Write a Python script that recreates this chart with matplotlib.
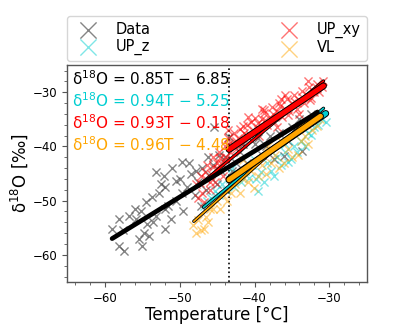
import numpy as np
import matplotlib
matplotlib.use('Agg')
import matplotlib.pyplot as plt
import matplotlib.ticker as mticker
import matplotlib.patheffects as pe

# ── datos ────────────────────────────────────────────────────────────────────
data_T = [-58.1, -59.0, -58.1, -57.4, -54.5, -55.2, -55.4, -55.0, -54.1, -54.4,
          -53.2, -52.1, -52.8, -51.9, -51.5, -51.1, -51.9, -50.5, -49.7, -49.7,
          -53.2, -55.8, -56.8, -53.7, -49.0, -48.5, -48.0, -47.5, -47.0, -46.5,
          -46.0, -45.5, -45.0, -44.5, -45.4, -43.4, -44.0, -43.0, -42.0, -41.0,
          -40.0, -39.0, -38.0, -37.4, -36.1, -33.6, -35.0, -34.0, -32.5, -50.5,
          -49.5, -48.8, -47.2, -52.5, -51.0, -56.0, -57.5, -53.5, -52.0, -54.8,
          -50.0, -47.8, -46.2, -44.8, -42.5, -41.5, -39.5, -38.5, -36.8, -35.5]
data_d = [-53.4, -55.3, -58.4, -59.3, -50.3, -52.0, -57.1, -58.4, -56.6, -54.4,
          -44.8, -45.5, -48.5, -47.4, -51.0, -53.4, -55.3, -46.4, -42.8, -48.5,
          -52.9, -53.4, -52.9, -49.4, -47.5, -45.0, -49.0, -46.5, -44.0, -48.0,
          -45.5, -43.5, -47.0, -44.5, -36.5, -38.3, -42.0, -44.5, -41.0, -43.0,
          -39.5, -41.5, -38.0, -42.4, -41.8, -40.9, -36.5, -35.0, -34.0, -50.0,
          -52.0, -43.0, -51.0, -47.0, -44.0, -51.5, -55.5, -54.0, -51.5, -56.0,
          -46.0, -44.5, -42.0, -41.5, -43.0, -39.5, -38.5, -40.0, -37.5, -39.0]

upz_T = [-46.8, -46.3, -45.8, -45.3, -44.8, -44.3, -43.8, -43.3, -42.8, -42.3,
         -41.8, -41.3, -40.8, -40.3, -39.8, -39.5, -39.1, -38.7, -38.3, -37.8,
         -37.4, -37.0, -36.5, -36.0, -35.5, -35.2, -34.8, -34.3, -33.8, -33.3,
         -32.8, -32.5, -32.0, -31.5, -31.0, -30.5, -43.0, -40.0, -36.0]
upz_d = [-51.0, -50.0, -49.5, -48.2, -49.0, -47.0, -48.0, -46.0, -47.5, -45.0,
         -46.5, -44.5, -45.8, -43.5, -46.0, -48.3, -44.8, -46.6, -43.0, -44.5,
         -45.5, -42.0, -43.5, -41.0, -42.8, -42.4, -40.0, -41.0, -39.0, -40.0,
         -37.5, -37.8, -36.5, -36.0, -35.0, -35.4, -44.0, -42.5, -39.5]

upxy_T = [-47.8, -47.5, -47.2, -47.0, -46.8, -46.5, -46.3, -46.0, -45.8, -45.5,
          -45.3, -45.0, -44.8, -44.5, -44.2, -44.0, -43.8, -43.5, -43.3, -43.0,
          -42.8, -42.5, -42.2, -42.0, -41.7, -41.4, -41.0, -40.8, -40.5, -40.2,
          -40.0, -39.7, -39.4, -39.0, -38.7, -38.4, -38.0, -37.7, -37.4, -37.0,
          -36.7, -36.4, -36.0, -35.7, -35.4, -35.0, -34.7, -34.4, -34.0, -33.7,
          -33.4, -33.0, -32.7, -32.4, -32.0, -31.7, -31.4, -31.0, -30.8, -39.0,
          -36.0, -34.0, -37.0, -40.9, -43.5, -38.7, -36.5, -32.9, -46.0, -45.0,
          -44.0, -42.5, -41.0, -47.3, -46.6, -45.6, -44.6, -43.6, -42.6, -41.6,
          -40.6, -39.6, -38.6, -37.6, -36.6, -35.6, -34.6, -33.6, -32.6, -31.6]
upxy_d = [-47.0, -49.5, -45.5, -48.5, -50.2, -46.0, -43.5, -48.0, -45.0, -42.0,
          -46.5, -44.0, -41.0, -43.0, -45.5, -40.0, -42.0, -38.5, -41.0, -39.5,
          -37.5, -40.5, -38.5, -36.8, -39.5, -37.5, -36.0, -38.5, -35.5, -37.0,
          -34.8, -36.5, -38.0, -35.0, -33.8, -36.0, -34.5, -32.8, -35.5, -33.5,
          -32.0, -34.5, -33.0, -31.2, -33.5, -32.0, -30.5, -33.0, -31.5, -29.8,
          -32.0, -30.5, -29.0, -31.0, -30.0, -28.5, -30.0, -29.0, -28.0, -33.0,
          -30.5, -34.0, -36.5, -34.5, -36.9, -33.2, -31.3, -28.0, -46.5, -43.0,
          -42.5, -39.0, -38.0, -46.8, -44.8, -43.8, -42.2, -39.8, -39.2, -36.2,
          -37.8, -35.6, -35.2, -34.0, -32.6, -34.2, -31.8, -30.8, -31.4, -29.2]

vl_T = [-48.2, -47.8, -47.5, -47.2, -46.8, -46.5, -46.2, -46.0, -45.5, -45.0,
        -44.6, -44.2, -43.7, -43.1, -42.6, -42.0, -41.5, -40.9, -40.5, -40.1,
        -39.5, -39.0, -38.5, -37.8, -37.3, -36.8, -36.1, -35.6, -35.0, -34.2,
        -33.8, -33.2, -32.8, -32.3, -31.6, -31.2, -38.2, -36.5, -41.5]
vl_d = [-54.5, -56.0, -53.5, -55.5, -55.3, -53.0, -54.0, -51.5, -51.6, -50.0,
        -51.5, -49.0, -50.0, -48.5, -47.0, -48.5, -46.0, -46.6, -44.5, -47.6,
        -45.5, -43.5, -45.0, -43.0, -41.5, -44.0, -43.0, -40.5, -42.0, -41.5,
        -39.0, -38.0, -39.5, -36.9, -36.3, -35.0, -40.0, -39.0, -42.5]

series_names = ['Data', 'UP_z', 'UP_xy', 'VL']
series_colors = ['#444444', 'darkturquoise', 'red', 'orange']

# ajustes: pendiente, ordenada y rango de T (T_c = umbral)
T_c = -43.4
fit_slope = [0.85, 0.94, 0.93, 0.96]
fit_icpt = [-6.85, -5.25, -0.18, -4.48]
fit_T0 = [-59.0, T_c, T_c, T_c]
fit_T1 = [-31.6, -30.5, -30.8, -31.2]

# ajustes finos (rango completo de cada serie)
thin_slope = [1.14, 1.16, 1.23]
thin_icpt = [2.15, 7.8, 5.36]
thin_T0 = [-46.8, -47.6, -48.1]
thin_T1 = [-30.8, -30.8, -31.6]

# ── figura ───────────────────────────────────────────────────────────────────
fig = plt.figure(figsize=(3.95, 3.29), dpi=100)
ax = fig.add_axes([0.170, 0.143, 0.759, 0.659])

pts = [(data_T, data_d), (upz_T, upz_d), (upxy_T, upxy_d), (vl_T, vl_d)]
alphas = [0.65, 0.5, 0.55, 0.5]
for (T, d), name, col, a in zip(pts, series_names, series_colors, alphas):
    ax.scatter(T, d, marker='x', s=34, linewidths=1.0, color=col,
               alpha=a, label=name, zorder=2)

# líneas finas con borde negro
for k, col in enumerate(series_colors[1:]):
    tt = np.array([thin_T0[k], thin_T1[k]])
    ax.plot(tt, thin_slope[k] * tt + thin_icpt[k], color=col, lw=1.2,
            solid_capstyle='round', zorder=3,
            path_effects=[pe.Stroke(linewidth=2.4, foreground='black'),
                          pe.Normal()])

# líneas gruesas
tt = np.array([fit_T0[0], fit_T1[0]])
ax.plot(tt, fit_slope[0] * tt + fit_icpt[0], color='black', lw=3.4,
        solid_capstyle='round', zorder=4)
for k in [1, 2, 3]:
    tt = np.array([fit_T0[k], fit_T1[k]])
    ax.plot(tt, fit_slope[k] * tt + fit_icpt[k], color=series_colors[k],
            lw=3.6, solid_capstyle='round', zorder=4 + k,
            path_effects=[pe.Stroke(linewidth=5.0, foreground='black'),
                          pe.Normal()])

ax.axvline(T_c, color='black', ls=':', lw=1.2, zorder=1)

# ecuaciones
for k in range(4):
    col = 'black' if k == 0 else series_colors[k]
    ax.text(0.015, 0.94 - 0.1015 * k,
            'δ$^{18}$O = %.2fT − %.2f' % (fit_slope[k], -fit_icpt[k]),
            transform=ax.transAxes, color=col, fontsize=11,
            ha='left', va='center', zorder=10)

ax.set_xlim(-65, -25)
ax.set_ylim(-65, -25)
ax.set_xticks([-60, -50, -40, -30])
ax.set_yticks([-60, -50, -40, -30])
ax.xaxis.set_minor_locator(mticker.AutoMinorLocator(5))
ax.yaxis.set_minor_locator(mticker.AutoMinorLocator(5))
ax.tick_params(which='major', labelsize=8.5, length=3.5, width=0.8, color='#555555')
ax.tick_params(which='minor', length=2, width=0.6, color='#555555')
for s in ax.spines.values():
    s.set_color('#555555')
    s.set_linewidth(1.0)

ax.set_xlabel('Temperature [°C]', fontsize=12, labelpad=1)
ax.set_ylabel('δ$^{18}$O [‰]', fontsize=12, labelpad=2)

leg = ax.legend(loc='lower left', bbox_to_anchor=(0, 1.018, 1, 0.2),
                mode='expand', ncol=2, fontsize=10.5, markerscale=2.0,
                borderaxespad=0, handletextpad=0.9, labelspacing=0.15)

fig.savefig('out.png', dpi=100)
